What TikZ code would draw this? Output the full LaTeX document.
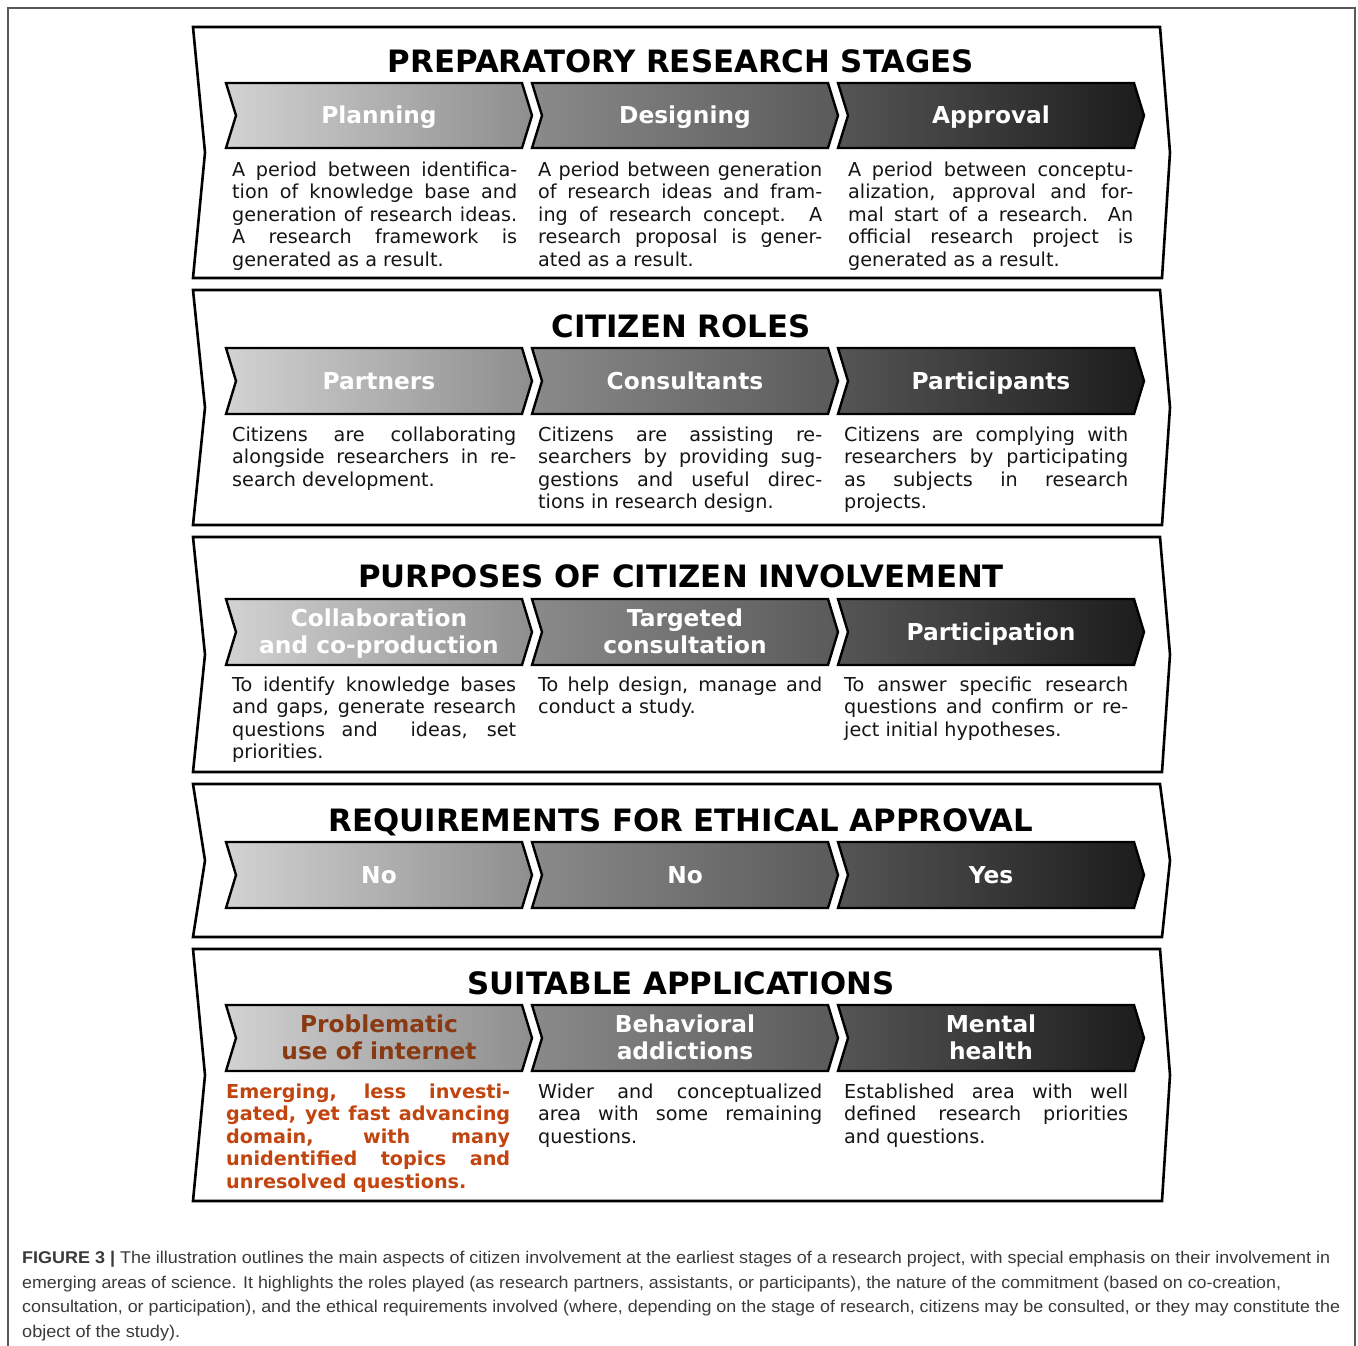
\documentclass[tikz,border=0pt]{standalone}
\usepackage{fontspec}
\usepackage{graphicx}
\setmainfont{DejaVu Sans}
\newfontfamily\capfont{Liberation Sans}
\definecolor{orng}{HTML}{C2440F}
\definecolor{brwn}{HTML}{8A3A12}
\definecolor{capgray}{HTML}{3A3A3A}
\definecolor{txt}{HTML}{151515}
\definecolor{gA}{HTML}{D2D2D2}
\definecolor{gB}{HTML}{8E8E8E}
\definecolor{gC}{HTML}{8A8A8A}
\definecolor{gD}{HTML}{5A5A5A}
\definecolor{gE}{HTML}{555555}
\definecolor{gF}{HTML}{1C1C1C}
\newcommand\jl[1]{\makebox[\linewidth][s]{#1}\\}
\newcommand\chevron[5]{%
  \draw[chev, left color=#4, right color=#5] (#1,#2) -- ({#1+296},#2) -- ({#1+306},{(#2+#3)/2}) -- ({#1+296},#3) -- (#1,#3) -- ({#1+10},{(#2+#3)/2}) -- cycle;}
\newcommand\panelshape[2]{%
  \draw[panelst] (193,#1) -- (1160,#1) -- (1170,{(#1+#2)/2}) -- (1162,#2) -- (193,#2) -- (205,{(#1+#2)/2}) -- cycle;}
\tikzset{
  panelst/.style={line width=2.6pt, line join=miter, fill=white},
  chev/.style={line width=2.4pt, draw=black, line join=miter},
  ttl/.style={font=\fontsize{30.8}{34}\selectfont\bfseries, text=black, inner sep=0pt, anchor=base},
  clab/.style={font=\fontsize{23.3}{27}\selectfont\bfseries, text=white, inner sep=0pt, anchor=base},
  desc/.style={font=\fontsize{19.2}{22.6}\selectfont, text=txt, inner sep=0pt, anchor=base west},
  capst/.style={font=\capfont\fontsize{17}{20}\selectfont, text=capgray, inner sep=0pt, anchor=base west}
}
\begin{document}
\begin{tikzpicture}[x=1pt,y=-1pt]
\useasboundingbox (0,0) rectangle (1358,1345);
% outer frame
\draw[gray!70!black, line width=1.3pt] (8,1346) -- (8,8) -- (1355,8) -- (1355,1346);
% panels
\panelshape{27}{278}
\panelshape{290}{525}
\panelshape{537}{772}
\panelshape{784}{937}
\panelshape{949}{1201}
% titles
\node[ttl] (t1) at (681,72) {PREPARATORY RESEARCH STAGES};
\node[ttl] (t2) at (681,337) {CITIZEN ROLES};
\node[ttl] (t3) at (681,587) {PURPOSES OF CITIZEN INVOLVEMENT};
\node[ttl] (t4) at (681,831) {REQUIREMENTS FOR ETHICAL APPROVAL};
\node[ttl] (t5) at (681,994) {SUITABLE APPLICATIONS};
% chevrons
\foreach \t/\b in {83/148, 348/414, 599/665, 842/908, 1005/1071}{
  \chevron{226}{\t}{\b}{gA}{gB}
  \chevron{532}{\t}{\b}{gC}{gD}
  \chevron{838}{\t}{\b}{gE}{gF}
}
% chevron labels
\node[clab] (c11) at (379,123) {Planning};
\node[clab] (c12) at (685,123) {Designing};
\node[clab] (c13) at (991,123) {Approval};
\node[clab] (c21) at (379,389) {Partners};
\node[clab] (c22) at (685,389) {Consultants};
\node[clab] (c23) at (991,389) {Participants};
\node[clab] (c31) at (379,626) {\parbox[t]{300pt}{\centering Collaboration\\and co-production}};
\node[clab] (c32) at (685,626) {\parbox[t]{300pt}{\centering Targeted\\consultation}};
\node[clab] (c33) at (991,640) {Participation};
\node[clab] (c41) at (379,883) {No};
\node[clab] (c42) at (685,883) {No};
\node[clab] (c43) at (991,883) {Yes};
\node[clab, text=brwn] (c51) at (379,1032) {\parbox[t]{300pt}{\centering Problematic\\use of internet}};
\node[clab] (c52) at (685,1032) {\parbox[t]{300pt}{\centering Behavioral\\addictions}};
\node[clab] (c53) at (991,1032) {\parbox[t]{300pt}{\centering Mental\\health}};
% descriptions row 1
\node[desc] (d11) at (232,176) {\parbox[t]{285pt}{%
\jl{A period between identifica-}\jl{tion of knowledge base and}\jl{generation of research ideas.}\jl{A research framework is}generated as a result.}};
\node[desc] (d12) at (538,176) {\parbox[t]{284pt}{%
\jl{A period between generation}\jl{of research ideas and fram-}\jl{ing of research concept. A}\jl{research proposal is gener-}ated as a result.}};
\node[desc] (d13) at (848,176) {\parbox[t]{285pt}{%
\jl{A period between conceptu-}\jl{alization, approval and for-}\jl{mal start of a research. An}\jl{official research project is}generated as a result.}};
% row 2
\node[desc] (d21) at (232,441) {\parbox[t]{284pt}{%
\jl{Citizens are collaborating}\jl{alongside researchers in re-}search development.}};
\node[desc] (d22) at (538,441) {\parbox[t]{284pt}{%
\jl{Citizens are assisting re-}\jl{searchers by providing sug-}\jl{gestions and useful direc-}tions in research design.}};
\node[desc] (d23) at (844,441) {\parbox[t]{284pt}{%
\jl{Citizens are complying with}\jl{researchers by participating}\jl{as subjects in research}projects.}};
% row 3
\node[desc] (d31) at (232,691) {\parbox[t]{284pt}{%
\jl{To identify knowledge bases}\jl{and gaps, generate research}\jl{questions and \ ideas, set}priorities.}};
\node[desc] (d32) at (538,691) {\parbox[t]{284pt}{%
\jl{To help design, manage and}conduct a study.}};
\node[desc] (d33) at (844,691) {\parbox[t]{284pt}{%
\jl{To answer specific research}\jl{questions and confirm or re-}ject initial hypotheses.}};
% row 5
\node[desc, text=orng, font=\fontsize{19.2}{22.6}\selectfont\bfseries] (d51) at (226,1098) {\parbox[t]{284pt}{%
\jl{Emerging, less investi-}\jl{gated, yet fast advancing}\jl{domain, with many}\jl{unidentified topics and}unresolved questions.}};
\node[desc] (d52) at (538,1098) {\parbox[t]{284pt}{%
\jl{Wider and conceptualized}\jl{area with some remaining}questions.}};
\node[desc] (d53) at (844,1098) {\parbox[t]{284pt}{%
\jl{Established area with well}\jl{defined research priorities}and questions.}};
% caption
\node[capst] (cap1) at (22,1263) {\resizebox{1308pt}{\height}{\textbf{FIGURE 3 |} The illustration outlines the main aspects of citizen involvement at the earliest stages of a research project, with special emphasis on their involvement in}};
\node[capst] (cap2) at (22,1288) {\resizebox{1259pt}{\height}{emerging areas of science. It highlights the roles played (as research partners, assistants, or participants), the nature of the commitment (based on co-creation,}};
\node[capst] (cap3) at (22,1312) {\resizebox{1318pt}{\height}{consultation, or participation), and the ethical requirements involved (where, depending on the stage of research, citizens may be consulted, or they may constitute the}};
\node[capst] (cap4) at (22,1337) {\resizebox{158pt}{\height}{object of the study).}};
\end{tikzpicture}
\end{document}
